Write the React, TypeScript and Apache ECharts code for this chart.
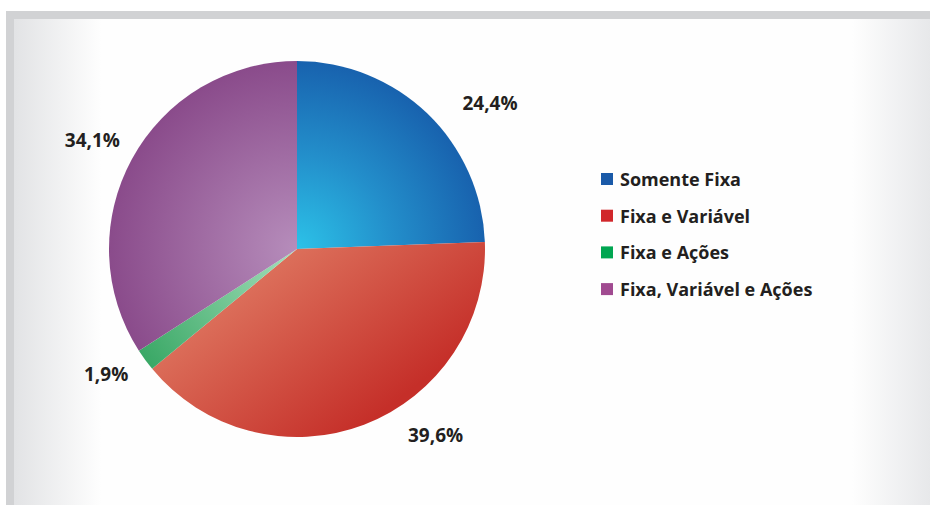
import React, { useEffect, useRef } from "react";
import * as echarts from "echarts";

const categories = ["Somente Fixa", "Fixa e Variável", "Fixa e Ações", "Fixa, Variável e Ações"];
const values = [24.4, 39.6, 1.9, 34.1];
const legendColors = ["#1a5aa8", "#d1272b", "#00a651", "#a04a90"];
const labelOffsets = [
  [30, -11],
  [39, 10],
  [-12, 14],
  [-7, -19],
];

const CX = 297;
const CY = 249;
const R = 188;

const radial = (stops: [number, string][]) => ({
  type: "radial",
  x: CX,
  y: CY,
  r: R,
  global: true,
  colorStops: stops.map(([offset, color]) => ({ offset, color })),
});

const sliceColors: any[] = [
  radial([
    [0, "#2cc2e8"],
    [0.5, "#238fcb"],
    [1, "#1862ae"],
  ]),
  {
    type: "linear",
    x: 200,
    y: 250,
    x2: 345,
    y2: 440,
    global: true,
    colorStops: [
      { offset: 0, color: "#e3836a" },
      { offset: 1, color: "#c52f29" },
    ],
  },
  radial([
    [0, "#a6e0bc"],
    [1, "#3aa866"],
  ]),
  radial([
    [0, "#b68dbb"],
    [1, "#8a4b8b"],
  ]),
];

export default function App() {
  const ref = useRef<HTMLDivElement>(null);
  useEffect(() => {
    if (!ref.current) return;
    const chart = echarts.init(ref.current, undefined, { renderer: "svg" });
    chart.setOption({
      animation: false,
      backgroundColor: "#ffffff",
      graphic: [
        {
          type: "rect",
          z: 0,
          shape: { x: 14, y: 19, width: 916, height: 486 },
          style: {
            fill: {
              type: "linear",
              x: 0,
              y: 0,
              x2: 1,
              y2: 0,
              colorStops: [
                { offset: 0, color: "#e2e3e5" },
                { offset: 0.095, color: "#fefefe" },
                { offset: 0.915, color: "#fefefe" },
                { offset: 1, color: "#e7e8ea" },
              ],
            },
          },
        },
        {
          type: "rect",
          z: 0,
          shape: { x: 6, y: 11, width: 924, height: 8 },
          style: { fill: "#d1d2d4" },
        },
        {
          type: "rect",
          z: 0,
          shape: { x: 6, y: 19, width: 8, height: 486 },
          style: { fill: "#d1d2d4" },
        },
      ],
      legend: {
        orient: "vertical",
        left: 601,
        top: 170,
        padding: 0,
        icon: "rect",
        itemWidth: 12,
        itemHeight: 12,
        itemGap: 18.7,
        textStyle: {
          fontFamily: "Open Sans",
          fontWeight: "bold",
          fontSize: 18,
          lineHeight: 18,
          color: "#231f20",
          padding: [0, 0, 0, 2],
        },
        data: categories.map((name, i) => ({
          name,
          itemStyle: { color: legendColors[i] },
        })),
      },
      series: [
        {
          type: "pie",
          center: [CX, CY],
          radius: R,
          startAngle: 90,
          clockwise: true,
          avoidLabelOverlap: false,
          data: categories.map((name, i) => ({
            name,
            value: values[i],
            itemStyle: { color: sliceColors[i] },
          })),
          itemStyle: { borderWidth: 0 },
          label: {
            show: true,
            position: "outside",
            formatter: (p: any) => p.value.toFixed(1).replace(".", ",") + "%",
            fontFamily: "Open Sans",
            fontWeight: "bold",
            fontSize: 19,
            color: "#231f20",
          },
          labelLine: { show: false, length: 0, length2: 0 },
          labelLayout: (params: any) => ({
            dx: labelOffsets[params.dataIndex][0],
            dy: labelOffsets[params.dataIndex][1],
          }),
          emphasis: { disabled: true },
        },
      ],
    });
    return () => chart.dispose();
  }, []);
  return (
    <div
      ref={ref}
      style={{ position: "absolute", left: 0, top: 0, width: 930, height: 505 }}
    />
  );
}
